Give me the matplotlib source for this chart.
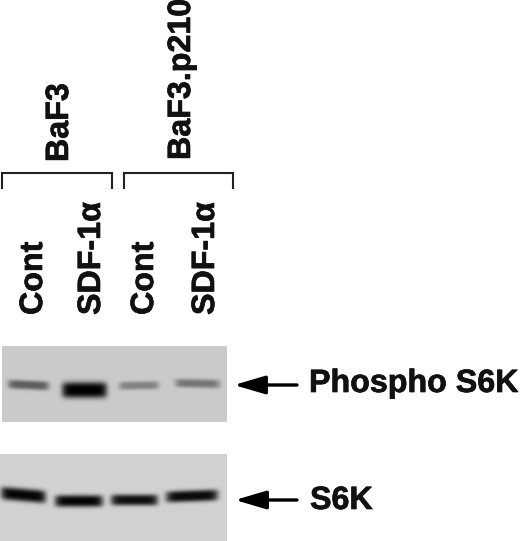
import numpy as np
import matplotlib
matplotlib.use("Agg")
import matplotlib.pyplot as plt
import matplotlib.patheffects as pe

plt.rcParams['font.family'] = ['Liberation Sans', 'DejaVu Sans']

# Lane labels
lane_labels = ['Cont', 'SDF-1α', 'Cont', 'SDF-1α']
lane_x = [34, 92, 145, 206]
group_labels = ['BaF3', 'BaF3.p210']
group_x = [60, 182]
group_bottom = [162, 160]

# Brackets: left, right
bracket_left = [2, 124]
bracket_right = [112, 233]

# Phospho S6K blot, one entry per band
top_left = [8, 62, 119, 175]
top_right = [49, 107, 159, 220]
top_y_left = [384, 390, 386, 383]
top_y_right = [386, 390, 385, 384]
top_height = [4.6, 8.0, 4.2, 4.4]
top_dark = [0.42, 0.80, 0.28, 0.33]

# S6K blot
bottom_left = [1, 55, 111, 166]
bottom_right = [46, 103, 158, 218]
bottom_y_left = [493, 501, 500, 497]
bottom_y_right = [497, 501, 500, 495]
bottom_height = [6.6, 6.0, 5.6, 5.8]
bottom_dark = [0.80, 0.80, 0.76, 0.78]


def blot(x0, x1, y0, y1, bg, left, right, yl, yr, h, dark):
    xx, yy = np.meshgrid(np.arange(x0, x1) + 0.5, np.arange(y0, y1) + 0.5)
    img = np.full(xx.shape, bg, dtype=float)
    for l, r, a, b, hh, d in zip(left, right, yl, yr, h, dark):
        c = (l + r) / 2
        w = (r - l) / 2
        yc = a + (b - a) * (xx - l) / (r - l)
        along = np.exp(-np.abs((xx - c) / w) ** 8)
        across = np.exp(-np.abs((yy - yc) / hh) ** 3)
        img -= d * along * across
    return np.clip(img, 0, 1)


fig = plt.figure(figsize=(5.2, 5.41), dpi=100)
ax = fig.add_axes([0, 0, 1, 1])

ax.imshow(blot(2, 227, 346, 422, 0.79, top_left, top_right, top_y_left, top_y_right, top_height, top_dark),
          cmap='gray', vmin=0, vmax=1, extent=(2, 227, 422, 346), interpolation='bilinear', aspect='auto')
ax.imshow(blot(0, 227, 454, 541, 0.82, bottom_left, bottom_right, bottom_y_left, bottom_y_right, bottom_height, bottom_dark),
          cmap='gray', vmin=0, vmax=1, extent=(0, 227, 541, 454), interpolation='bilinear', aspect='auto')

ax.set_xlim(0, 520)
ax.set_ylim(541, 0)
ax.axis('off')

bold = [pe.withStroke(linewidth=0.5, foreground='#111111')]

# Text
for x, s in zip(lane_x, lane_labels):
    ax.text(x, 315, s, rotation=90, ha='center', va='bottom', fontsize=23.2, fontweight='bold',
            color='#111111', path_effects=bold)
for x, y, s in zip(group_x, group_bottom, group_labels):
    ax.text(x, y, s, rotation=90, ha='center', va='bottom', fontsize=23.2, fontweight='bold',
            color='#111111', path_effects=bold)

for l, r in zip(bracket_left, bracket_right):
    ax.plot([l, l, r, r], [188, 173, 173, 188], color='#222222', lw=1.5, solid_joinstyle='miter')

# Arrows
for y, tip in zip([385, 500], [234, 235]):
    ax.annotate('', xy=(tip, y), xytext=(297, y),
                arrowprops=dict(arrowstyle='-|>,head_length=0.95,head_width=0.28', color='black', lw=2.4,
                                shrinkA=0, shrinkB=0, mutation_scale=20))

ax.text(309, 384, 'Phospho S6K', ha='left', va='center', fontsize=23.2, fontweight='bold',
        color='#111111', path_effects=bold)
ax.text(310, 501, 'S6K', ha='left', va='center', fontsize=23.2, fontweight='bold',
        color='#111111', path_effects=bold)

fig.savefig('out.png', dpi=100)
